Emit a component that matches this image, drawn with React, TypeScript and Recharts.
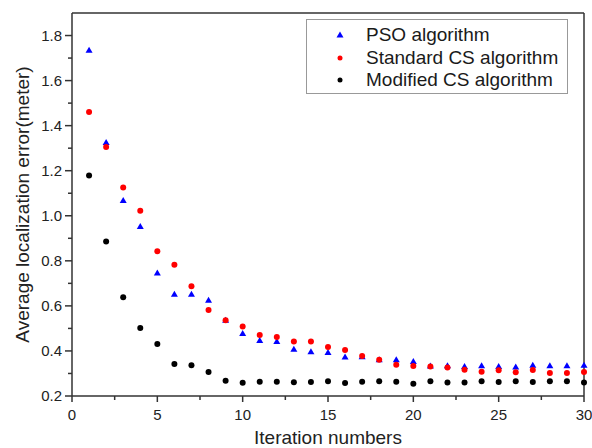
import { ScatterChart, Scatter, XAxis, YAxis, Legend, ReferenceLine, Label } from "recharts";

const iterations = [1, 2, 3, 4, 5, 6, 7, 8, 9, 10, 11, 12, 13, 14, 15, 16, 17, 18, 19, 20, 21, 22, 23, 24, 25, 26, 27, 28, 29, 30];
const psoError = [1.734, 1.325, 1.067, 0.952, 0.746, 0.651, 0.651, 0.625, 0.536, 0.477, 0.446, 0.442, 0.407, 0.396, 0.393, 0.373, 0.374, 0.36, 0.361, 0.353, 0.333, 0.334, 0.331, 0.334, 0.33, 0.328, 0.336, 0.334, 0.334, 0.336];
const standardCsError = [1.461, 1.305, 1.125, 1.022, 0.843, 0.783, 0.687, 0.582, 0.536, 0.508, 0.471, 0.462, 0.442, 0.442, 0.417, 0.404, 0.377, 0.361, 0.339, 0.333, 0.331, 0.327, 0.317, 0.308, 0.314, 0.305, 0.315, 0.302, 0.302, 0.306];
const modifiedCsError = [1.179, 0.886, 0.638, 0.502, 0.431, 0.342, 0.336, 0.306, 0.268, 0.259, 0.263, 0.263, 0.261, 0.262, 0.265, 0.258, 0.263, 0.265, 0.263, 0.254, 0.266, 0.26, 0.26, 0.266, 0.262, 0.266, 0.262, 0.266, 0.266, 0.26];

const xTicks = [0, 2.5, 5, 7.5, 10, 12.5, 15, 17.5, 20, 22.5, 25, 27.5, 30];
const yTicks = [0.2, 0.3, 0.4, 0.5, 0.6, 0.7, 0.8, 0.9, 1.0, 1.1, 1.2, 1.3, 1.4, 1.5, 1.6, 1.7, 1.8];

const seriesNames = ["PSO algorithm", "Standard CS algorithm", "Modified CS algorithm"];

const FONT = '"Liberation Sans", Arial, sans-serif';
const AXIS = "#333";

const toPoints = (vals: number[]) => iterations.map((x, i) => ({ x, y: vals[i] }));

const Triangle = (props: any) => {
  const { cx, cy } = props;
  return <polygon points={`${cx},${cy - 3.6} ${cx + 3.5},${cy + 2.4} ${cx - 3.5},${cy + 2.4}`} fill="#0000ff" />;
};
const RedDot = (props: any) => <circle cx={props.cx} cy={props.cy} r={3} fill="#ff0000" />;
const BlackDot = (props: any) => <circle cx={props.cx} cy={props.cy} r={3} fill="#000000" />;

const XTick = (props: any) => {
  const { x, y, payload } = props;
  const major = payload.value % 5 === 0;
  return (
    <g>
      <line x1={x} y1={y} x2={x} y2={y + (major ? 6 : 4)} stroke={AXIS} strokeWidth={1.5} />
      {major && (
        <text x={x} y={y + 24} textAnchor="middle" fontSize={15} fontFamily={FONT} fill="#222">
          {payload.value}
        </text>
      )}
    </g>
  );
};

const YTick = (props: any) => {
  const { x, y, payload } = props;
  const major = Math.round(payload.value * 10) % 2 === 0;
  return (
    <g>
      <line x1={x - (major ? 7 : 4)} y1={y} x2={x} y2={y} stroke={AXIS} strokeWidth={1.5} />
      {major && (
        <text x={x - 10} y={y + 5} textAnchor="end" fontSize={15} fontFamily={FONT} fill="#222">
          {payload.value.toFixed(1)}
        </text>
      )}
    </g>
  );
};

const legendIcons = [
  <polygon key="t" points="5,1.5 8.5,7.5 1.5,7.5" fill="#0000ff" />,
  <circle key="r" cx={5} cy={5} r={2.5} fill="#ff0000" />,
  <circle key="b" cx={5} cy={5} r={2.5} fill="#000000" />,
];

const LegendBox = () => (
  <div style={{ width: 262, height: 75, border: "1px solid #999", boxSizing: "border-box", background: "#fff", paddingTop: 4 }}>
    {seriesNames.map((name, i) => (
      <div key={name} style={{ position: "relative", height: 22.5, lineHeight: "22.5px", fontFamily: FONT, fontSize: 19, color: "#1a1a1a" }}>
        <svg width={10} height={10} style={{ position: "absolute", left: 28, top: 6 }}>
          {legendIcons[i]}
        </svg>
        <span style={{ position: "absolute", left: 59, top: 0, whiteSpace: "nowrap" }}>{name}</span>
      </div>
    ))}
  </div>
);

export default function App() {
  return (
    <div style={{ position: "absolute", left: 0, top: 0, width: 592, height: 448, background: "#fff" }}>
      <ScatterChart width={592} height={448} margin={{ top: 13, right: 8, bottom: 0, left: 0 }}>
        <XAxis
          type="number"
          dataKey="x"
          domain={[0, 30]}
          ticks={xTicks}
          interval={0}
          height={52}
          tickSize={0}
          tickMargin={0}
          tickLine={false}
          tick={<XTick />}
          axisLine={{ stroke: AXIS, strokeWidth: 1.5 }}
        >
          <Label
            content={(p: any) => {
              const vb = p.viewBox;
              return (
                <text x={vb.x + vb.width / 2} y={444} textAnchor="middle" fontSize={19} fontFamily={FONT} fill="#222">
                  Iteration numbers
                </text>
              );
            }}
          />
        </XAxis>
        <YAxis
          type="number"
          dataKey="y"
          domain={[0.2, 1.9]}
          ticks={yTicks}
          interval={0}
          width={72}
          tickSize={0}
          tickMargin={0}
          tickLine={false}
          tick={<YTick />}
          axisLine={{ stroke: AXIS, strokeWidth: 1.5 }}
          allowDataOverflow
        >
          <Label
            content={(p: any) => {
              const vb = p.viewBox;
              const cy = vb.y + vb.height / 2;
              return (
                <text x={22} y={cy} transform={`rotate(-90, 22, ${cy})`} textAnchor="middle" dominantBaseline="central" fontSize={19} fontFamily={FONT} fill="#222">
                  Average localization error(meter)
                </text>
              );
            }}
          />
        </YAxis>
        <ReferenceLine y={1.9} stroke={AXIS} strokeWidth={1.5} />
        <ReferenceLine x={30} stroke={AXIS} strokeWidth={1.5} />
        <Legend
          layout="vertical"
          align="center"
          verticalAlign="middle"
          content={<LegendBox />}
          wrapperStyle={{ position: "absolute", left: 306, top: 19, width: 262, height: 75 }}
        />
        <Scatter name={seriesNames[0]} data={toPoints(psoError)} shape={<Triangle />} isAnimationActive={false} />
        <Scatter name={seriesNames[1]} data={toPoints(standardCsError)} shape={<RedDot />} isAnimationActive={false} />
        <Scatter name={seriesNames[2]} data={toPoints(modifiedCsError)} shape={<BlackDot />} isAnimationActive={false} />
      </ScatterChart>
    </div>
  );
}
